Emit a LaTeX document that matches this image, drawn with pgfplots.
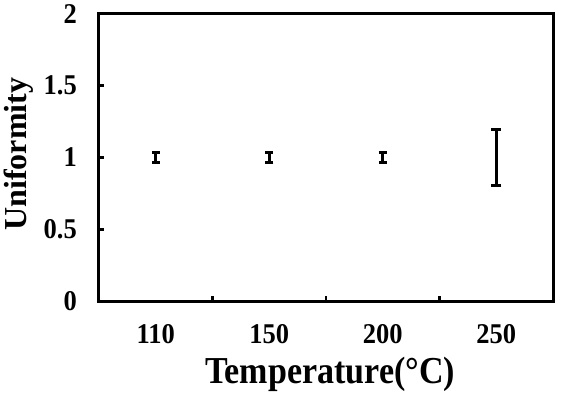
\documentclass[border=0pt]{standalone}
\usepackage{fontspec}
\setmainfont{Liberation Serif}
\usepackage{graphicx}
\usepackage{pgfplots}
\pgfplotsset{compat=1.18}
\newcommand\sy[1]{\scalebox{1}[1.08]{#1}}
\begin{document}
\begin{tikzpicture}
\useasboundingbox (-99pt,-97pt) rectangle (462pt,301pt);
\begin{axis}[
  at={(0,0)}, anchor=south west,
  scale only axis, width=454pt, height=287pt,
  xmin=-0.5, xmax=3.5, ymin=0, ymax=2,
  xtick={0.5,1.5,2.5}, xticklabels={},
  extra x ticks={0,1,2,3},
  extra x tick labels={\sy{110},\sy{150},\sy{200},\sy{250}},
  extra x tick style={major tick length=0pt},
  ytick={0,0.5,1,1.5,2},
  yticklabels={\sy{0},\sy{0.5},\sy{1},\sy{1.5},\sy{2}},
  tick pos=left,
  tick align=inside,
  major tick length=5pt,
  axis line style={line width=3pt, black},
  major tick style={line width=2.8pt, black},
  tick label style={font=\fontsize{26.5}{26.5}\selectfont\bfseries, inner sep=0pt},
  yticklabel style={xshift=-22pt},
  xticklabel style={yshift=-23.5pt},
  xlabel={\scalebox{1}[1.12]{Temperature(°C)}},
  xlabel style={font=\fontsize{34}{34}\selectfont\bfseries, at={(axis description cs:0.509,-0.289)}, anchor=base},
  ylabel={Uniformity},
  ylabel style={font=\fontsize{32}{32}\selectfont\bfseries, at={(axis description cs:-0.178,0.512)}, anchor=center},
]
\addplot[draw=none, mark=none, forget plot,
  error bars/.cd, y dir=both, y explicit,
  error bar style={line width=2.6pt, draw=black},
  error mark options={rotate=90, mark size=4pt, line width=2.6pt, draw=black}]
  coordinates {(0,1) +- (0,0.033) (1,1) +- (0,0.033) (2,1) +- (0,0.033)};
\addplot[draw=none, mark=none, forget plot,
  error bars/.cd, y dir=both, y explicit,
  error bar style={line width=2.6pt, draw=black},
  error mark options={rotate=90, mark size=5pt, line width=2.6pt, draw=black}]
  coordinates {(3,1) +- (0,0.195)};
\end{axis}
\end{tikzpicture}
\end{document}
